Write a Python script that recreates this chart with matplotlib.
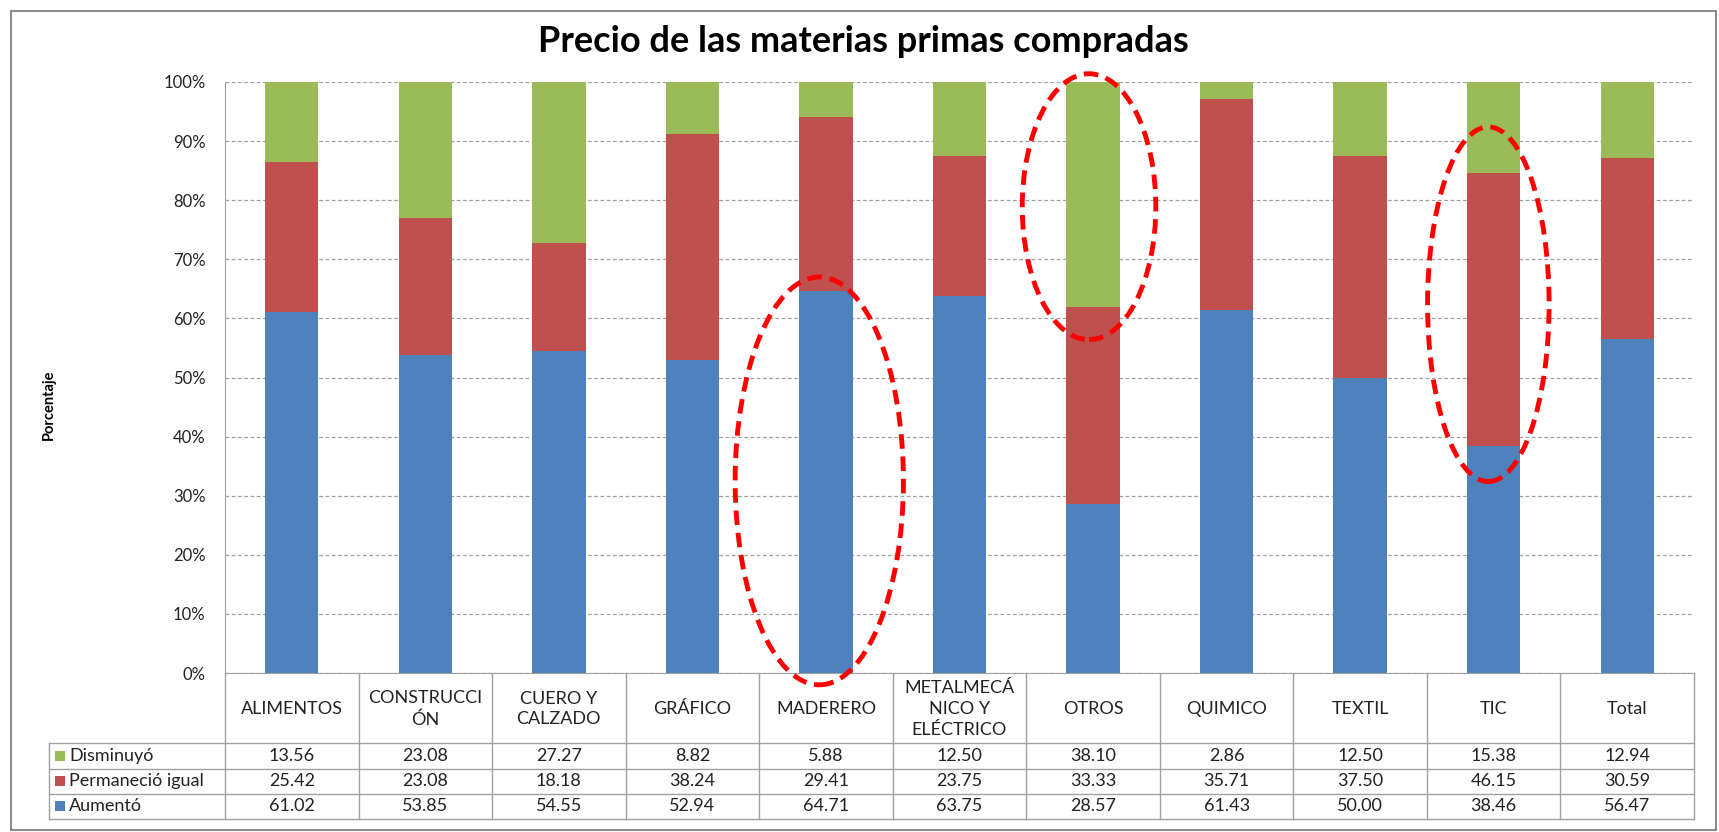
import matplotlib.pyplot as plt
from matplotlib.patches import Ellipse, Rectangle
from matplotlib.lines import Line2D

# data
categories = ['ALIMENTOS', 'CONSTRUCCI\nÓN', 'CUERO Y\nCALZADO', 'GRÁFICO', 'MADERERO',
              'METALMECÁ\nNICO Y\nELÉCTRICO', 'OTROS', 'QUIMICO', 'TEXTIL', 'TIC', 'Total']
aumento = [61.02, 53.85, 54.55, 52.94, 64.71, 63.75, 28.57, 61.43, 50.00, 38.46, 56.47]
igual = [25.42, 23.08, 18.18, 38.24, 29.41, 23.75, 33.33, 35.71, 37.50, 46.15, 30.59]
disminuyo = [13.56, 23.08, 27.27, 8.82, 5.88, 12.50, 38.10, 2.86, 12.50, 15.38, 12.94]

series_names = ['Disminuyó', 'Permaneció igual', 'Aumentó']
colors = {'Aumentó': '#4F81BD', 'Permaneció igual': '#C0504D', 'Disminuyó': '#9BBB59'}

# highlighted groups (category index, centre y, width, height)
highlights = [(4, 32.5, 1.26, 69), (6, 78.9, 1.0, 45), (9, 62.4, 0.91, 60)]
highlight_offsets = [-0.05, -0.03, -0.04]

plt.rcParams['font.family'] = ['Lato', 'DejaVu Sans']

W, H = 1719, 832
fig = plt.figure(figsize=(W / 100, H / 100), dpi=100)

# axes placement in pixels
ax_l, ax_r, ax_t, ax_b = 225, 1694, 82, 673
ax = fig.add_axes([ax_l / W, 1 - ax_b / H, (ax_r - ax_l) / W, (ax_b - ax_t) / H])

x = list(range(len(categories)))
bw = 0.4
ax.bar(x, aumento, bw, color=colors['Aumentó'], zorder=2)
ax.bar(x, igual, bw, bottom=aumento, color=colors['Permaneció igual'], zorder=2)
bottom2 = [a + b for a, b in zip(aumento, igual)]
ax.bar(x, disminuyo, bw, bottom=bottom2, color=colors['Disminuyó'], zorder=2)

ax.set_xlim(-0.5, len(categories) - 0.5)
ax.set_ylim(0, 100)
ax.set_yticks(range(0, 101, 10))
ax.set_yticklabels([f'{v}%' for v in range(0, 101, 10)], fontsize=12, color='#222222')
ax.tick_params(axis='y', length=0, pad=14)
ax.set_xticks([])
ax.yaxis.grid(True, linestyle=(0, (3, 2)), color='#A0A0A0', linewidth=0.9, zorder=0)
for s in ['top', 'right']:
    ax.spines[s].set_visible(False)
ax.spines['left'].set_color('#A0A0A0')
ax.spines['bottom'].set_color('#A0A0A0')

fig.text(863 / W, 1 - 42 / H, 'Precio de las materias primas compradas',
         ha='center', va='center', fontsize=26, fontweight='bold')
fig.text(49 / W, 1 - 405 / H, 'Porcentaje', rotation=90, ha='center', va='center',
         fontsize=10.5, fontweight='bold')

for (ci, cy, ew, eh), off in zip(highlights, highlight_offsets):
    ax.add_patch(Ellipse((ci + off, cy), ew, eh, fill=False, edgecolor='#FF0000',
                         linewidth=3.5, linestyle=(0, (3, 1.6)), clip_on=False, zorder=5))

# data table below the axes (pixel layout converted to figure fractions)
def fx(px):
    return px / W

def fy(py):
    return 1 - py / H

line_kw = dict(color='#A0A0A0', linewidth=1)
col_w = (ax_r - ax_l) / len(categories)
row_y = [673, 743, 768.5, 793.7, 819]
leg_l = 49

for i in range(len(categories) + 1):
    xp = ax_l + i * col_w
    fig.add_artist(Line2D([fx(xp), fx(xp)], [fy(row_y[0]), fy(row_y[-1])], **line_kw))
fig.add_artist(Line2D([fx(leg_l), fx(leg_l)], [fy(row_y[1]), fy(row_y[-1])], **line_kw))
for yp in row_y[1:]:
    fig.add_artist(Line2D([fx(leg_l), fx(ax_r)], [fy(yp), fy(yp)], **line_kw))

for i, cat in enumerate(categories):
    xc = ax_l + (i + 0.5) * col_w
    fig.text(fx(xc), fy((row_y[0] + row_y[1]) / 2 + 1), cat, ha='center', va='center',
             fontsize=13, color='#222222', linespacing=1.35)

rows = {'Disminuyó': disminuyo, 'Permaneció igual': igual, 'Aumentó': aumento}
for r, name in enumerate(series_names):
    yc = (row_y[r + 1] + row_y[r + 2]) / 2
    fig.add_artist(Rectangle((fx(leg_l + 6), fy(yc + 5)), 10 / W, 10 / H,
                             facecolor=colors[name], edgecolor='none'))
    fig.text(fx(leg_l + 20), fy(yc), name, ha='left', va='center', fontsize=13, color='#222222')
    for i, v in enumerate(rows[name]):
        xc = ax_l + (i + 0.5) * col_w
        fig.text(fx(xc), fy(yc), f'{v:.2f}', ha='center', va='center', fontsize=13, color='#222222')

# outer chart frame
fig.add_artist(Rectangle((fx(11), fy(830)), 1705 / W, 819 / H, fill=False,
                         edgecolor='#8C8C8C', linewidth=1.5))

fig.savefig('out.png', dpi=100)
